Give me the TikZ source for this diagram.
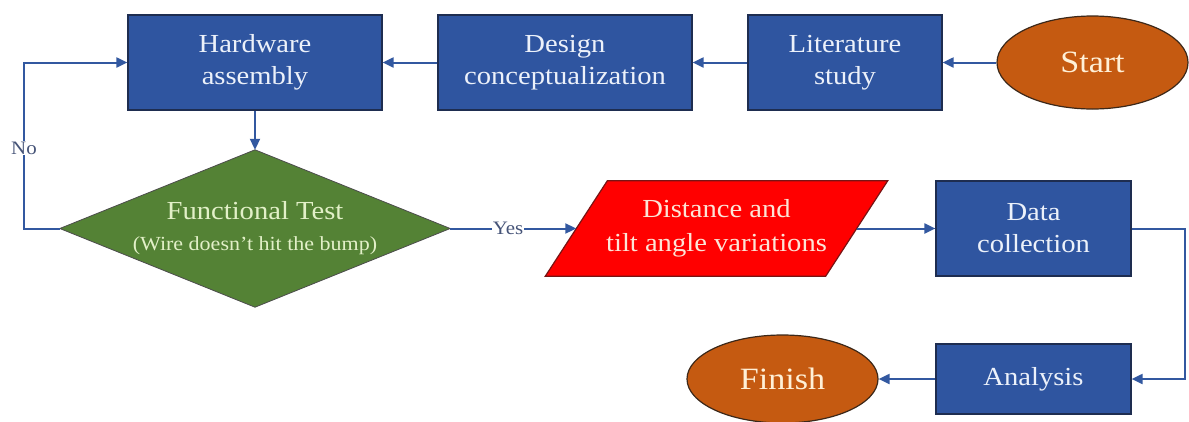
\documentclass[tikz,border=0pt]{standalone}
\usepackage{fontspec}
\setmainfont{Liberation Serif}[FakeStretch=1.1]
\usetikzlibrary{arrows.meta,shapes.geometric,backgrounds}
\definecolor{boxblue}{RGB}{47,85,160}
\definecolor{boxline}{RGB}{30,45,80}
\definecolor{boxtext}{RGB}{236,241,250}
\definecolor{linecol}{RGB}{50,88,160}
\definecolor{dgreen}{RGB}{84,130,53}
\definecolor{greentext}{RGB}{226,240,200}
\definecolor{redfill}{RGB}{255,0,0}
\definecolor{redline}{RGB}{120,20,20}
\definecolor{redtext}{RGB}{252,228,214}
\definecolor{orangefill}{RGB}{197,90,17}
\definecolor{orangeline}{RGB}{60,40,25}
\definecolor{orangetext}{RGB}{255,240,215}
\definecolor{lbltext}{RGB}{70,84,120}
\begin{document}
\begin{tikzpicture}[x=1pt,y=-1pt,
  box/.style={draw=boxline, line width=1.2pt, fill=boxblue, text=boxtext, align=center,
    font=\fontsize{26}{32}\selectfont, inner sep=0pt},
  oval/.style={ellipse, draw=orangeline, line width=1.2pt, fill=orangefill, text=orangetext,
    font=\fontsize{31}{34}\selectfont, inner sep=0pt, minimum width=191pt},
  conn/.style={draw=linecol, line width=2pt, -{Triangle[length=11pt,width=10pt]}},
  lbl/.style={fill=white, text=lbltext, inner sep=1pt, font=\fontsize{19}{22}\selectfont}]
\useasboundingbox (0,0) rectangle (1189,421);

% top row
\node[box, minimum width=254pt, minimum height=95pt] (hw) at (255,62.5) {Hardware\\assembly};
\node[box, minimum width=254pt, minimum height=95pt] (design) at (565,62.5) {Design\\conceptualization};
\node[box, minimum width=194pt, minimum height=95pt] (lit) at (845,62.5) {Literature\\study};
\node[oval, minimum height=93pt] (start) at (1092.5,62.5) {Start};

% decision
\node[inner sep=0pt, minimum width=390pt, minimum height=157pt, align=center, text=greentext,
  font=\fontsize{26}{31}\selectfont] (test) at (255,228.5)
  {Functional Test\\{\fontsize{20}{24}\selectfont (Wire doesn't hit the bump)}};
\begin{scope}[on background layer]
  \filldraw[fill=dgreen, draw=black!70, line width=0.8pt] (test.north) -- (test.east) -- (test.south) -- (test.west) -- cycle;
\end{scope}

% parallelogram
\node[inner sep=0pt, minimum width=280pt, minimum height=95pt, align=center, text=redtext,
  font=\fontsize{26}{34}\selectfont] (dist) at (716.5,228.5) {Distance and\\tilt angle variations};
\begin{scope}[on background layer]
  \filldraw[fill=redfill, draw=redline, line width=1.2pt]
    ([xshift=31pt]dist.north west) -- ([xshift=31pt]dist.north east)
    -- ([xshift=-31pt]dist.south east) -- ([xshift=-31pt]dist.south west) -- cycle;
\end{scope}

\node[box, minimum width=195pt, minimum height=95pt] (data) at (1033.5,228.5) {Data\\collection};
\node[box, minimum width=195pt, minimum height=70pt] (ana) at (1033.5,379) {Analysis};
\node[oval, minimum height=88pt] (finish) at (782.5,379) {Finish};

% connectors
\draw[conn] (start.west) -- (lit.east);
\draw[conn] (lit.west) -- (design.east);
\draw[conn] (design.west) -- (hw.east);
\draw[conn] (hw.south) -- (test.north);

\coordinate (nocorner) at (24,228.5);
\draw[conn] (test.west) -- (nocorner) |- (hw.west);
\node[lbl] (nolbl) at (24,148) {No};

\draw[conn] (test.east) -- (dist.west);
\node[lbl] (yeslbl) at (508,228.5) {Yes};

\draw[conn] (dist.east) -- (data.west);
\coordinate (rcorner) at (1185,228.5);
\draw[conn] (data.east) -- (rcorner) |- (ana.east);
\draw[conn] (ana.west) -- (finish.east);
\end{tikzpicture}
\end{document}
